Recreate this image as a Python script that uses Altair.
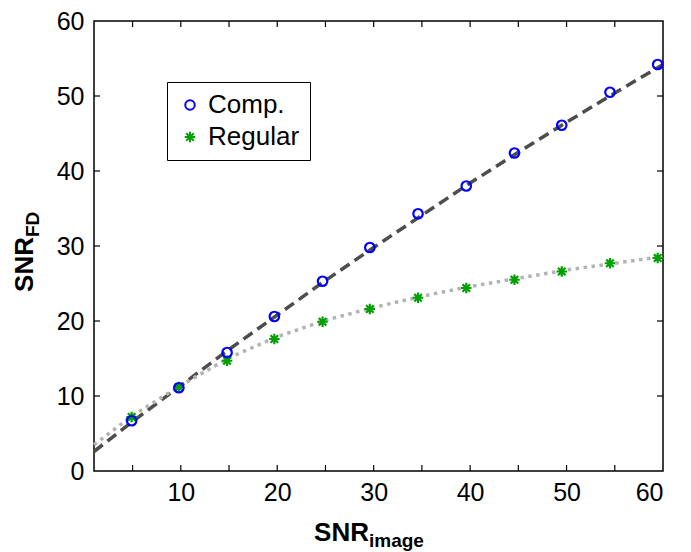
import altair as alt
import pandas as pd

FONT = "Liberation Sans, Arial, Helvetica, sans-serif"

# ---- data ----
snr_image = [4.9, 9.8, 14.8, 19.7, 24.7, 29.6, 34.6, 39.6, 44.6, 49.5, 54.5, 59.45]
comp_snr_fd = [6.7, 11.1, 15.8, 20.6, 25.3, 29.8, 34.3, 38.0, 42.4, 46.1, 50.5, 54.2]
regular_snr_fd = [7.2, 11.2, 14.7, 17.6, 19.9, 21.6, 23.1, 24.4, 25.5, 26.6, 27.7, 28.4]

fit_x = [1, 5, 10, 15, 20, 25, 30, 35, 40, 45, 50, 55, 60]
comp_fit = [2.6, 6.6, 11.4, 16.2, 20.8, 25.4, 29.8, 34.1, 38.4, 42.5, 46.5, 50.4, 54.2]
regular_fit = [3.5, 7.4, 11.4, 15.1, 17.9, 20.1, 21.8, 23.3, 24.6, 25.7, 26.8, 27.7, 28.6]

series_names = ["Comp.", "Regular"]
x_tick_labels = [10, 20, 30, 40, 50, 60]
y_tick_labels = [0, 10, 20, 30, 40, 50, 60]
x_minor_ticks = [5, 10, 15, 20, 25, 30, 35, 40, 45, 50, 55]
y_minor_ticks = [10, 20, 30, 40, 50]
x_title = ["SNR", "image"]
y_title = ["SNR", "FD"]

ASTERISK = "M0,-1L0,1M-1,0L1,0M-0.72,-0.72L0.72,0.72M-0.72,0.72L0.72,-0.72"

W, H = 569, 450

pts = pd.DataFrame({
    "x": snr_image + snr_image,
    "y": comp_snr_fd + regular_snr_fd,
    "series": [series_names[0]] * len(snr_image) + [series_names[1]] * len(snr_image),
})
fits = pd.DataFrame({"x": fit_x, "comp": comp_fit, "reg": regular_fit})

xscale = alt.Scale(domain=[1, 60], nice=False, zero=False)
yscale = alt.Scale(domain=[0, 60], nice=False, zero=False)

x_axis = alt.Axis(values=x_tick_labels, ticks=False, domain=False, grid=False, labels=True,
                  title=None, labelFontSize=25, labelFont=FONT, labelColor="black",
                  labelPadding=9, orient="bottom")
y_axis = alt.Axis(values=y_tick_labels, ticks=False, domain=False, grid=False, labels=True,
                  title=None, labelFontSize=25, labelFont=FONT, labelColor="black",
                  labelPadding=10, orient="left")

comp_line = alt.Chart(fits).mark_line(
    color="#4d4d4d", strokeWidth=3.5, strokeDash=[11, 6], strokeCap="butt"
).encode(
    x=alt.X("x:Q", scale=xscale, axis=x_axis),
    y=alt.Y("comp:Q", scale=yscale, axis=y_axis),
)

reg_line = alt.Chart(fits).mark_line(
    color="#b3b3b3", strokeWidth=3.5, strokeDash=[3.5, 4.5], strokeCap="butt"
).encode(
    x=alt.X("x:Q", scale=xscale, axis=x_axis),
    y=alt.Y("reg:Q", scale=yscale, axis=y_axis),
)

leg = alt.Legend(orient="none", legendX=73, legendY=61, title=None,
                 direction="vertical", labelFontSize=26, labelFont=FONT,
                 labelColor="black", symbolStrokeWidth=2, symbolSize=60,
                 padding=10, rowPadding=6, labelOffset=5,
                 strokeColor="black", fillColor="white")

points = alt.Chart(pts).mark_point(filled=False, strokeWidth=2.2, opacity=1).encode(
    x=alt.X("x:Q", scale=xscale, axis=x_axis),
    y=alt.Y("y:Q", scale=yscale, axis=y_axis),
    color=alt.Color("series:N", scale=alt.Scale(domain=series_names, range=["#0000ff", "#00a000"]),
                    legend=leg),
    shape=alt.Shape("series:N", scale=alt.Scale(domain=series_names, range=["circle", ASTERISK]),
                    legend=leg),
    size=alt.Size("series:N", scale=alt.Scale(domain=series_names, range=[90, 110]), legend=None),
    order=alt.Order("series:N", sort="descending"),
)

xt = pd.DataFrame({"v": x_minor_ticks})
yt = pd.DataFrame({"v": y_minor_ticks})
tick_style = dict(color="black", strokeWidth=1.2)
xb = alt.Chart(xt).mark_rule(**tick_style).encode(
    x=alt.X("v:Q", scale=xscale, axis=x_axis), y=alt.value(H), y2=alt.value(H - 6))
xtop = alt.Chart(xt).mark_rule(**tick_style).encode(
    x=alt.X("v:Q", scale=xscale, axis=x_axis), y=alt.value(0), y2=alt.value(6))
yl = alt.Chart(yt).mark_rule(**tick_style).encode(
    y=alt.Y("v:Q", scale=yscale, axis=y_axis), x=alt.value(0), x2=alt.value(6))
yr = alt.Chart(yt).mark_rule(**tick_style).encode(
    y=alt.Y("v:Q", scale=yscale, axis=y_axis), x=alt.value(W), x2=alt.value(W - 6))

def txt(s, size, **kw):
    return alt.Chart(pd.DataFrame({"t": [s]})).mark_text(
        font=FONT, fontSize=size, fontWeight="bold", color="black", **kw
    ).encode(text="t:N")

xt_main = txt(x_title[0], 26, align="right", baseline="alphabetic").encode(
    x=alt.value(275), y=alt.value(520))
xt_sub = txt(x_title[1], 19, align="left", baseline="alphabetic").encode(
    x=alt.value(275), y=alt.value(526))
yt_main = txt(y_title[0], 26, align="right", baseline="alphabetic", angle=270).encode(
    x=alt.value(-61), y=alt.value(216))
yt_sub = txt(y_title[1], 19, align="left", baseline="alphabetic", angle=270).encode(
    x=alt.value(-55), y=alt.value(216))

chart = alt.layer(
    comp_line, reg_line, points, xb, xtop, yl, yr, xt_main, xt_sub, yt_main, yt_sub
).properties(
    width=W, height=H,
    autosize=alt.AutoSizeParams(type="none"),
    padding={"left": 86, "top": 13, "right": 20, "bottom": 80},
    background="white",
).configure_view(
    stroke="black", strokeWidth=1.5
)

chart.save("out.html", embed_options={"renderer": "svg", "actions": False})
